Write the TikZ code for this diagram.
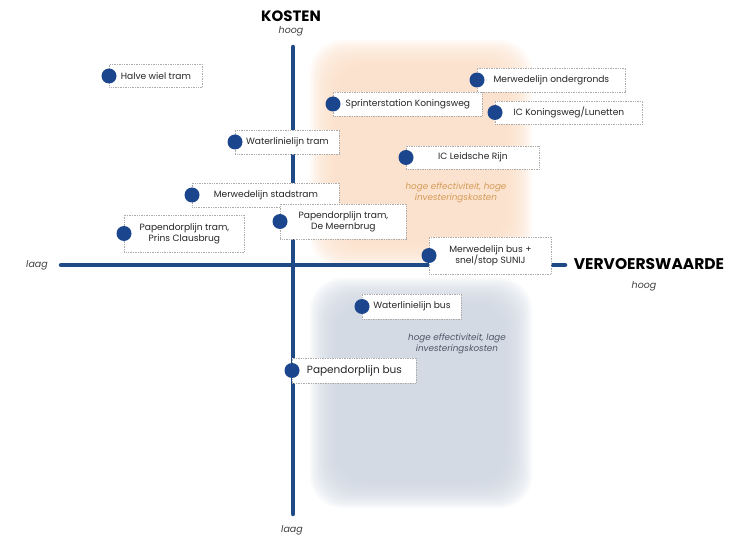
\documentclass[tikz,border=0pt]{standalone}
\usepackage{fontspec}
\setmainfont{Poppins}
\definecolor{axisblue}{HTML}{1F4A86}
\definecolor{dotblue}{HTML}{1B458C}
\definecolor{peach}{HTML}{FBDEC7}
\definecolor{greyblue}{HTML}{CED5E0}
\definecolor{orangetxt}{HTML}{D49A55}
\definecolor{greytxt}{HTML}{4E5566}
\begin{document}
\begin{tikzpicture}[x=1pt,y=-1pt,
  lbl/.style={draw=gray!65, dash pattern=on 0.8pt off 0.9pt, line width=0.8pt, fill=white, inner sep=1pt,
    font=\fontsize{9.1}{11.3}\selectfont, text=black!85, align=center, anchor=west},
  big/.style={font=\fontsize{10.5}{12}\selectfont},
  dot/.style={circle, fill=dotblue, minimum size=15pt, inner sep=0pt},
  axis/.style={draw=axisblue, line width=4.5pt, line cap=round},
  ttl/.style={font=\fontsize{15}{17}\selectfont\bfseries, text=black},
  sub/.style={font=\fontsize{9.5}{11}\selectfont\itshape, text=black!75},
  note/.style={font=\fontsize{8.8}{11.5}\selectfont\itshape, align=center}]
\useasboundingbox (0,0) rectangle (731,537);
% soft regions
\foreach \i in {0,...,15} {
  \fill[peach, opacity=0.12, rounded corners=32pt] (310+1.7*\i, 40+1.7*\i) rectangle (532-1.7*\i, 268-1.7*\i);
  \fill[greyblue, opacity=0.12, rounded corners=32pt] (310+1.7*\i, 278+1.7*\i) rectangle (532-1.7*\i, 508-1.7*\i);
}
% axes
\coordinate (vt) at (293,47);
\coordinate (vb) at (293,514);
\coordinate (hl) at (61,265);
\coordinate (hr) at (565,265);
\draw[axis] (vt) -- (vb);
\draw[axis] (hl) -- (hr);
% axis titles
\node[ttl] (kosten) at (291,16.5) {KOSTEN};
\node[sub] (hoogv) at (291,31) {hoog};
\node[sub] (laagv) at (292,530) {laag};
\node[sub] (laagh) at (37,265) {laag};
\node[ttl, font=\fontsize{15.5}{17}\selectfont\bfseries] (vervoer) at (649,264) {VERVOERSWAARDE};
\node[sub] (hoogh) at (644,286) {hoog};
% region notes
\node[note, text=orangetxt] (n1) at (456,193) {hoge effectiviteit, hoge\\investeringskosten};
\node[note, text=greytxt] (n2) at (457,344) {hoge effectiviteit, lage\\investeringskosten};
% labels
\node[lbl, minimum width=93pt, minimum height=23pt] (b1) at (109,76) {Halve wiel tram};
\node[lbl, minimum width=148pt, minimum height=24pt] (b2) at (477,80) {Merwedelijn ondergronds};
\node[lbl, minimum width=149pt, minimum height=24pt] (b3) at (333,104) {Sprinterstation Koningsweg};
\node[lbl, minimum width=147pt, minimum height=23pt] (b4) at (495,112.5) {IC Koningsweg/Lunetten};
\node[lbl, minimum width=104pt, minimum height=24pt] (b5) at (235,142) {Waterlinielijn tram};
\node[lbl, minimum width=133pt, minimum height=23pt] (b6) at (406,157.5) {IC Leidsche Rijn};
\node[lbl, minimum width=147pt, minimum height=24pt] (b7) at (192,195) {Merwedelijn stadstram};
\node[lbl, minimum width=120pt, minimum height=37pt] (b8) at (124,233.5) {Papendorplijn tram,\\Prins Clausbrug};
\node[lbl, minimum width=126pt, minimum height=35pt] (b9) at (280,221.5) {Papendorplijn tram,\\De Meernbrug};
\node[lbl, minimum width=122pt, minimum height=37pt] (b10) at (429,255.5) {Merwedelijn bus +\\snel/stop SUNIJ};
\node[lbl, minimum width=99pt, minimum height=25pt] (b11) at (362,306.5) {Waterlinielijn bus};
\node[lbl, big, minimum width=124pt, minimum height=25pt] (b12) at (292,370.5) {Papendorplijn bus};
% dots
\foreach \b in {b1,b2,b3,b4,b5,b6,b7,b8,b9,b10,b11,b12}
  \node[dot] (d\b) at (\b.west) {};
\end{tikzpicture}
\end{document}
